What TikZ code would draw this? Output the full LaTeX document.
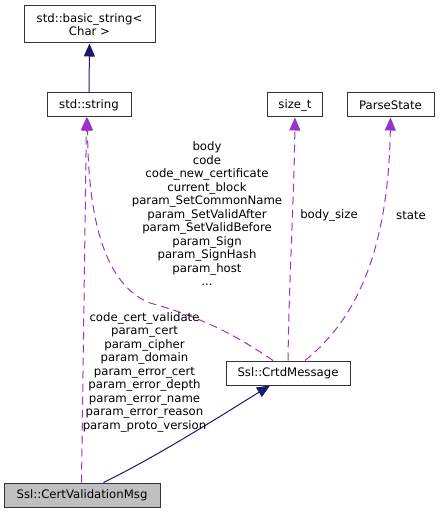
\documentclass[tikz,border=0pt]{standalone}
\usepackage{fontspec}
\setmainfont{DejaVu Sans}
\usetikzlibrary{arrows.meta}
\definecolor{navyedge}{HTML}{191970}
\definecolor{purpedge}{HTML}{9A32CD}
\definecolor{boxgray}{HTML}{BFBFBF}
\begin{document}
\begin{tikzpicture}[x=1pt,y=-1pt,
  cls/.style={draw=black!80,line width=1pt,fill=white,inner sep=0pt,minimum height=24pt,align=center,font=\fontsize{11.7}{13.5}\selectfont},
  lbl/.style={inner sep=0pt,align=center,font=\fontsize{11.7}{13.5}\selectfont},
  inh/.style={color=navyedge,line width=1pt,-{Triangle[length=13pt,width=11pt]}},
  use/.style={color=purpedge,line width=1pt,dash pattern=on 8pt off 5pt,-{Triangle[length=13pt,width=11pt]}}]
\useasboundingbox (0,0) rectangle (439,513);
\node[cls,minimum width=131pt,minimum height=37pt] (bs) at (89.5,24.5) {std::basic\_string<\\Char >};
\node[cls,minimum width=84pt] (str) at (89,105) {std::string};
\node[cls,minimum width=55pt] (sz) at (295,105) {size\_t};
\node[cls,minimum width=87pt] (ps) at (390.5,105) {ParseState};
\node[cls,minimum width=124pt] (crtd) at (288,373) {Ssl::CrtdMessage};
\node[cls,minimum width=156pt,fill=boxgray] (cvm) at (82,495) {Ssl::CertValidationMsg};
% inheritance
\draw[inh] (str.north) -- (bs.south);
\draw[inh] ([xshift=-57pt]cvm.north east) .. controls (160,455) and (230,410) .. ([xshift=-18pt]crtd.south);
% usage
\draw[use] ([xshift=-15pt]crtd.north) .. controls (240,338) and (205,318) .. (150,303)
  .. controls (105,285) and (88,220) .. ([xshift=-1.5pt]str.south);
\draw[use] (crtd.north) .. controls (289,280) and (294,200) .. (sz.south);
\draw[use] ([xshift=17pt]crtd.north) .. controls (345,328) and (388,270) .. (ps.south);
\draw[use] ([xshift=-0.5pt]cvm.north) -- ([xshift=-2.5pt]str.south);
% labels
\node[lbl] (l1) at (207,214) {body\\code\\code\_new\_certificate\\current\_block\\param\_SetCommonName\\param\_SetValidAfter\\param\_SetValidBefore\\param\_Sign\\param\_SignHash\\param\_host\\...};
\node[lbl] (l2) at (329,215) {body\_size};
\node[lbl] (l3) at (411,215) {state};
\node[lbl] (l4) at (144.5,372) {code\_cert\_validate\\param\_cert\\param\_cipher\\param\_domain\\param\_error\_cert\\param\_error\_depth\\param\_error\_name\\param\_error\_reason\\param\_proto\_version};
\end{tikzpicture}
\end{document}
